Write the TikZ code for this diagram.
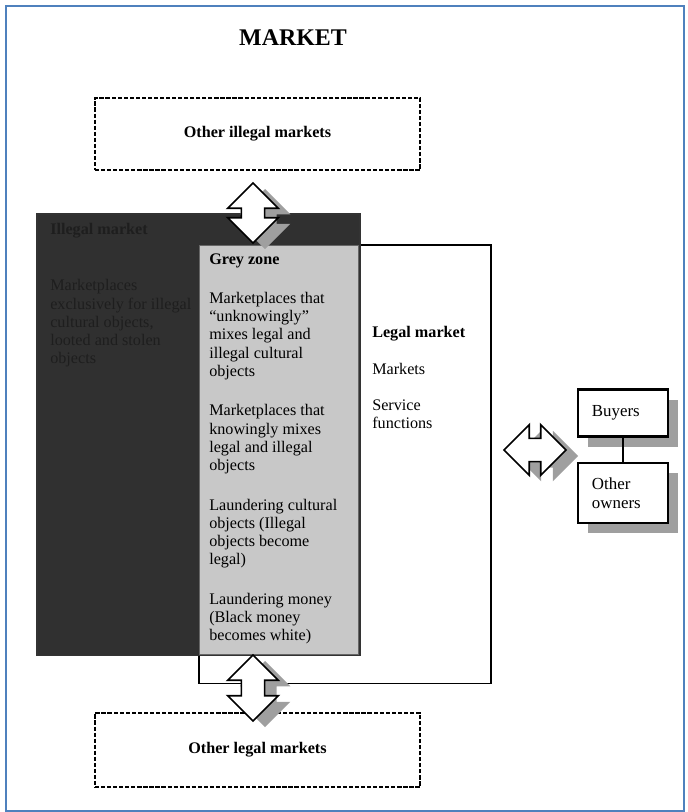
\documentclass[tikz,border=0pt]{standalone}
\usepackage{fontspec}
\setmainfont{Liberation Serif}
\usetikzlibrary{shapes.arrows,shadows,positioning}

\definecolor{frameblue}{RGB}{79,129,189}
\definecolor{darkzone}{RGB}{48,48,48}
\definecolor{darkink}{RGB}{30,30,30}
\definecolor{greyzone}{RGB}{200,200,200}

\tikzset{
  body/.style={font=\fontsize{11.5}{13}\selectfont, align=left, inner sep=0pt},
  dashbox/.style={draw, line width=1.1pt, dash pattern=on 3pt off 1.3pt,
    minimum width=8.125cm, font=\fontsize{11.5}{13}\selectfont\bfseries},
  ownerbox/.style={draw, line width=2pt, fill=white, body,
    font=\fontsize{12}{13.5}\selectfont,
    text width=1.55cm, minimum width=2.25cm,
    drop shadow={shadow xshift=0.25cm, shadow yshift=-0.25cm, fill=gray!75, opacity=1}},
  bigarrow/.style={double arrow, draw, line width=1.2pt, fill=white,
    inner sep=0.27cm, double arrow head extend=0.34cm,
    drop shadow={shadow xshift=0.3cm, shadow yshift=-0.15cm, fill=gray!75, opacity=1}},
}

\begin{document}
\begin{tikzpicture}[x=0.025cm, y=-0.025cm]
  \useasboundingbox (0,0) rectangle (687,812);
  \draw[frameblue, line width=1.5pt] (6,6) rectangle (684,811);

  \node[font=\fontsize{17}{20}\selectfont\bfseries] (title) at (293,38) {MARKET};

  % outer markets
  \node[dashbox, minimum height=1.8cm] (illegalother) at (257.5,134) {Other illegal markets};
  \node[dashbox, minimum height=1.85cm] (legalother) at (257.5,750) {Other legal markets};

  % the three zones, legal one at the back
  \node[draw, fill=white, line width=0.8pt, minimum width=7.3cm, minimum height=10.95cm] (legal) at (345,464) {};
  \node[draw=black!80, fill=darkzone, line width=0.8pt, minimum width=8.075cm, minimum height=11.025cm] (illegal) at (198.5,434.5) {};
  \node[draw=black!60, fill=greyzone, line width=0.6pt, minimum width=3.975cm, minimum height=10.225cm] (grey) at (278.5,449.5) {};

  \node[body, text=darkink, anchor=north west] (illegaltext) at (50,223)
    {\textbf{Illegal market}\\[27pt]
     Marketplaces\\ exclusively for illegal\\ cultural objects,\\ looted and stolen\\ objects};
  \node[body, anchor=north west] (greytext) at (209,253)
    {\textbf{Grey zone}\\[15pt]
     Marketplaces that\\ ``unknowingly''\\ mixes legal and\\ illegal cultural\\ objects\\[15pt]
     Marketplaces that\\ knowingly mixes\\ legal and illegal\\ objects\\[15pt]
     Laundering cultural\\ objects (Illegal\\ objects become\\ legal)\\[15pt]
     Laundering money\\ (Black money\\ becomes white)};
  \node[body, anchor=north west] (legaltext) at (372,326)
    {\textbf{Legal market}\\[13pt]
     Markets\\[13pt]
     Service\\ functions};

  % buyers and owners
  \node[ownerbox, minimum height=1.175cm] (buyers) at (623,413) {Buyers};
  \node[ownerbox, minimum height=1.5cm] (owners) at (623,493) {Other\\ owners};
  \draw[line width=2pt] (buyers) -- (owners);

  % exchange arrows
  \node[bigarrow, shape border rotate=90, minimum height=1.5cm] (uparrow) at (253,213) {};
  \node[bigarrow, shape border rotate=90, minimum height=1.65cm] (downarrow) at (253,688) {};
  \node[bigarrow, minimum height=1.55cm] (sidearrow) at (535,450) {};
\end{tikzpicture}
\end{document}
